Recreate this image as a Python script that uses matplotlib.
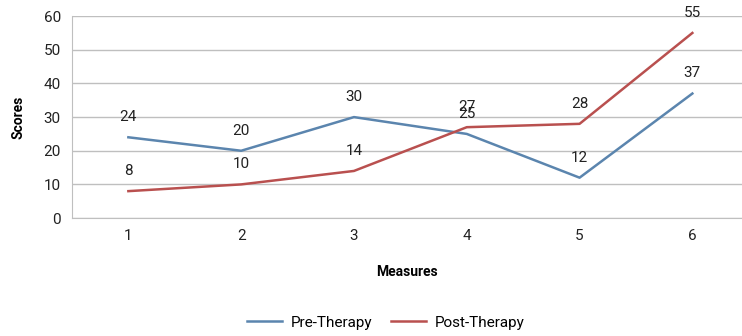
import matplotlib
matplotlib.use("Agg")
import matplotlib.pyplot as plt

measures = [1, 2, 3, 4, 5, 6]
pre_therapy = [24, 20, 30, 25, 12, 37]
post_therapy = [8, 10, 14, 27, 28, 55]
y_ticks = [0, 10, 20, 30, 40, 50, 60]

plt.rcParams['font.family'] = ['Roboto', 'DejaVu Sans']

fig = plt.figure(figsize=(7.42, 3.36), dpi=100)
ax = fig.add_axes([0.097, 0.351, 0.903, 0.601])

blue = '#5B85AE'
red = '#B9504F'

ax.plot(measures, pre_therapy, color=blue, lw=1.8, label='Pre-Therapy')
ax.plot(measures, post_therapy, color=red, lw=1.8, label='Post-Therapy')

for x, y in zip(measures, pre_therapy):
    ax.annotate(str(y), (x, y), xytext=(0, 14.5), textcoords='offset points',
                ha='center', va='center', fontsize=11, color='#222222')
for x, y in zip(measures, post_therapy):
    ax.annotate(str(y), (x, y), xytext=(0, 14.5), textcoords='offset points',
                ha='center', va='center', fontsize=11, color='#222222')

ax.set_xlim(0.5, 6.44)
ax.set_ylim(0, 60)
ax.set_yticks(y_ticks)
ax.set_xticks(measures)
ax.grid(axis='y', color='#BFBFBF', lw=1)
ax.set_axisbelow(True)
for s in ['top', 'right']:
    ax.spines[s].set_visible(False)
ax.spines['left'].set_color('#BFBFBF')
ax.spines['bottom'].set_color('#BFBFBF')
ax.tick_params(length=0, labelsize=11, colors='#222222', pad=8)

ax.set_ylabel('Scores', fontsize=10, fontweight='bold', labelpad=13)
ax.set_xlabel('Measures', fontsize=10, fontweight='bold', labelpad=16)

fig.legend(loc='center', bbox_to_anchor=(0.52, 0.04), ncol=2, frameon=False,
           fontsize=11, handlelength=2.3, columnspacing=1.2, handletextpad=0.6)

fig.savefig('out.png', dpi=100)
